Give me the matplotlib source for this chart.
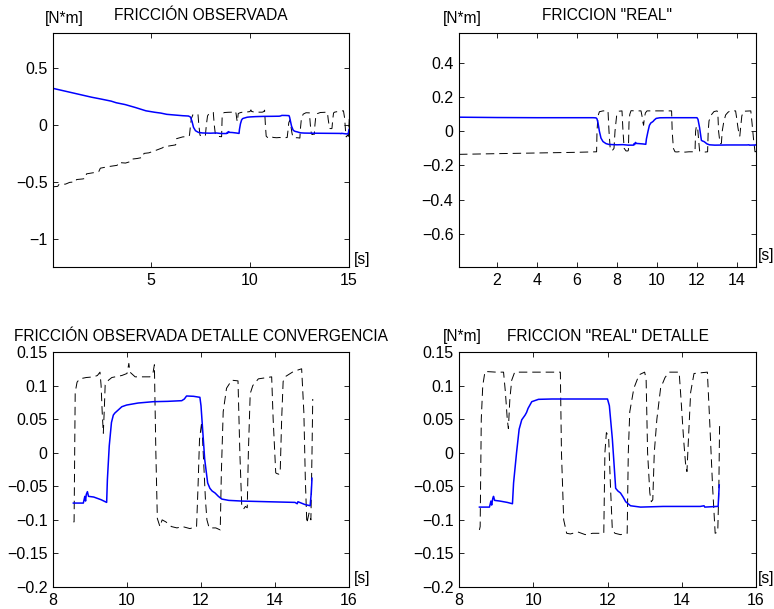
import matplotlib
matplotlib.use("Agg")
import matplotlib.pyplot as plt
from matplotlib.ticker import FuncFormatter

plt.rcParams['font.family'] = ['Liberation Sans', 'DejaVu Sans']
plt.rcParams['axes.unicode_minus'] = True

# ---------------------------------------------------------------------------
# Observed friction (solid blue) [N*m] vs time [s]
obs_t = [0.0, 0.5, 1.0, 1.55, 2.0, 2.5, 3.0, 3.25, 3.7, 4.2, 4.75, 5.2, 5.5, 5.8,
         6.2, 6.6, 6.9, 7.0, 7.08, 7.15, 7.25, 7.4, 7.6, 8.0, 8.3, 8.55, 8.82,
         8.86, 8.88, 8.9, 8.93, 8.96, 9.1, 9.3, 9.45, 9.47, 9.52, 9.58, 9.63,
         9.67, 9.75, 9.86, 9.99, 10.3, 10.71, 11.1, 11.48, 11.55, 11.61, 11.8,
         11.97, 12.0, 12.03, 12.1, 12.18, 12.24, 12.3, 12.38, 12.47, 12.56,
         12.75, 13.1, 13.8, 14.54, 14.6, 14.62, 14.8, 14.95, 14.98, 15.0]
obs_v = [0.325, 0.305, 0.285, 0.263, 0.245, 0.228, 0.21, 0.196, 0.18, 0.155,
         0.125, 0.112, 0.105, 0.094, 0.088, 0.082, 0.079, 0.070, 0.03, -0.02,
         -0.05, -0.065, -0.07, -0.072, -0.07, -0.075, -0.075, -0.065, -0.072,
         -0.062, -0.058, -0.065, -0.066, -0.070, -0.074, -0.04, 0.01, 0.045,
         0.056, 0.059, 0.063, 0.0685, 0.071, 0.074, 0.076, 0.0765, 0.0775,
         0.080, 0.0845, 0.084, 0.0825, 0.07, 0.046, -0.01, -0.045, -0.053,
         -0.057, -0.060, -0.065, -0.069, -0.071, -0.072, -0.073, -0.074,
         -0.076, -0.073, -0.077, -0.079, -0.06, -0.038]

# Reference signal plotted dashed alongside the observed friction
obs_ref_t = [0.0, 0.3, 0.35, 0.7, 0.9, 1.2, 1.25, 1.55, 1.7, 1.75, 2.1, 2.37,
             2.45, 2.9, 3.3, 3.35, 3.72, 4.0, 4.05, 4.3, 4.6, 4.65, 4.9, 5.3,
             5.6, 5.65, 5.9, 6.25, 6.3, 6.6, 6.9, 6.95,
             7.0, 7.05, 7.12, 7.3, 7.38, 7.42, 7.48, 7.6, 7.75, 7.8, 7.86, 7.95,
             8.15, 8.2, 8.26, 8.4, 8.55,
             8.57, 8.6, 8.65, 8.72, 8.9, 9.1, 9.2, 9.27, 9.3, 9.33, 9.36, 9.39,
             9.41, 9.5, 9.59, 9.86, 10.0, 10.05, 10.08, 10.22, 10.62, 10.7,
             10.74, 10.78, 10.82, 10.89, 10.95, 11.05, 11.2, 11.35, 11.5, 11.7,
             11.88, 11.92, 11.96, 12.02, 12.06, 12.12, 12.16, 12.22, 12.4,
             12.52, 12.55, 12.6, 12.69, 12.83, 13.0, 13.05, 13.1, 13.15, 13.2,
             13.25, 13.28, 13.33, 13.4, 13.55, 13.91, 13.95, 14.02, 14.05,
             14.1, 14.14, 14.18, 14.22, 14.27, 14.5, 14.72, 14.78, 14.82,
             14.86, 14.92, 14.97, 15.0, 15.02]
obs_ref_v = [-0.545, -0.54, -0.525, -0.52, -0.505, -0.50, -0.48, -0.475, -0.47,
             -0.43, -0.42, -0.41, -0.38, -0.365, -0.355, -0.33, -0.335, -0.32,
             -0.30, -0.295, -0.285, -0.25, -0.245, -0.22, -0.2, -0.19, -0.185,
             -0.175, -0.12, -0.105, -0.10, -0.09,
             0.0, 0.06, 0.09, 0.10, 0.09, 0.0, -0.09, -0.1, -0.095, 0.0, 0.08,
             0.105, 0.11, 0.0, -0.09, -0.1, -0.103,
             -0.103, 0.09, 0.105, 0.11, 0.112, 0.113, 0.115, 0.12, 0.10, 0.06,
             0.029, 0.07, 0.101, 0.108, 0.112, 0.115, 0.118, 0.133, 0.12, 0.113,
             0.113, 0.118, 0.131, 0.0, -0.098, -0.11, -0.10, -0.103, -0.11,
             -0.112, -0.11, -0.113, -0.11, -0.05, 0.02, 0.046, 0.0, -0.07,
             -0.100, -0.112, -0.112, -0.115, -0.03, 0.061, 0.096, 0.108, 0.107,
             0.0, -0.078, -0.084, -0.08, -0.082, 0.0, 0.088, 0.1, 0.11, 0.113,
             0.05, -0.03, -0.031, -0.032, -0.03, 0.05, 0.106, 0.113, 0.121,
             0.125, 0.06, -0.04, -0.105, -0.09, -0.1, 0.0, 0.08]

# "Real" friction (solid blue)
real_t = [0.1, 2.0, 4.0, 6.0, 6.8, 6.95, 7.0, 7.05, 7.12, 7.2, 7.3, 7.45, 7.6,
          8.0, 8.3, 8.55, 8.82, 8.86, 8.88, 8.91, 8.93, 8.96, 9.1, 9.3, 9.44,
          9.47, 9.55, 9.62, 9.69, 9.78, 9.82, 9.86, 9.96, 10.14, 10.5, 11.0,
          11.5, 12.0, 12.05, 12.13, 12.18, 12.22, 12.28, 12.35, 12.42, 12.49,
          12.62, 12.89, 13.5, 14.0, 14.5, 14.6, 14.62, 14.95, 14.98, 15.01]
real_v = [0.083, 0.081, 0.080, 0.080, 0.080, 0.079, 0.073, 0.05, 0.0, -0.04,
          -0.06, -0.072, -0.077, -0.079, -0.078, -0.081, -0.081, -0.072,
          -0.078, -0.068, -0.065, -0.071, -0.072, -0.074, -0.076, -0.045, 0.0,
          0.035, 0.049, 0.056, 0.06, 0.066, 0.076, 0.0795, 0.080, 0.080, 0.080,
          0.080, 0.07, 0.021, -0.02, -0.053, -0.057, -0.060, -0.066, -0.073,
          -0.079, -0.081, -0.080, -0.080, -0.080, -0.079, -0.081, -0.080,
          -0.08, -0.048]

# Reference signal plotted dashed alongside the real friction
real_ref_t = [0.1, 2.0, 4.0, 6.0, 6.98, 7.0, 7.05, 7.12, 7.3, 7.55, 7.6, 7.66,
              7.75, 7.85, 7.9, 7.98, 8.1, 8.25, 8.3, 8.36, 8.45, 8.55,
              8.57, 8.6, 8.64, 8.7, 9.0, 9.2, 9.25, 9.3, 9.33, 9.37, 9.42, 9.5,
              10.0, 10.5, 10.73, 10.76, 10.82, 10.9, 11.0, 11.2, 11.4, 11.6,
              11.9, 11.93, 11.97, 12.03, 12.08, 12.13, 12.2, 12.35, 12.53,
              12.56, 12.6, 12.71, 12.85, 13.0, 13.04, 13.08, 13.14, 13.18,
              13.22, 13.26, 13.33, 13.43, 13.55, 13.66, 13.93, 13.98, 14.05,
              14.1, 14.14, 14.18, 14.24, 14.33, 14.69, 14.75, 14.83, 14.9,
              14.97, 15.0, 15.02]
real_ref_v = [-0.135, -0.131, -0.127, -0.123, -0.12, 0.0, 0.09, 0.115, 0.12,
              0.12, 0.0, -0.1, -0.115, -0.1, 0.0, 0.09, 0.118, 0.12, 0.0, -0.1,
              -0.115, -0.115,
              -0.11, 0.05, 0.1, 0.121, 0.12, 0.12, 0.09, 0.05, 0.036, 0.08,
              0.108, 0.12, 0.12, 0.12, 0.12, 0.0, -0.1, -0.12, -0.121, -0.118,
              -0.122, -0.12, -0.12, 0.0, 0.03, 0.024, -0.05, -0.115, -0.12,
              -0.122, -0.12, 0.0, 0.061, 0.096, 0.116, 0.12, 0.11, 0.0, -0.06,
              -0.073, -0.07, 0.0, 0.05, 0.096, 0.112, 0.12, 0.12, 0.08, 0.02,
              -0.015, -0.028, 0.02, 0.09, 0.118, 0.12, 0.05, -0.05, -0.12,
              -0.118, -0.05, 0.046]

# Detail views start here
detail_start = 8.55

# Axis ticks
top_left_xticks = [5, 10, 15]
top_left_yticks = [-1, -0.5, 0, 0.5]
top_right_xticks = [2, 4, 6, 8, 10, 12, 14]
top_right_yticks = [-0.6, -0.4, -0.2, 0, 0.2, 0.4]
detail_xticks = [8, 10, 12, 14, 16]
detail_yticks = [-0.2, -0.15, -0.1, -0.05, 0, 0.05, 0.1, 0.15]

# ---------------------------------------------------------------------------
W, H = 774, 609
fig = plt.figure(figsize=(W / 100, H / 100), dpi=100)
BLUE = '#0000ff'
DASH = (0, (8.7, 5.1))
TICK_FS = 11.5
TEXT_FS = 11.2


def axes_px(left, top, right, bottom):
    return fig.add_axes([left / W, 1 - bottom / H, (right - left) / W, (bottom - top) / H])


def fmt(x, pos):
    s = f"{x:g}"
    if s in ("-0", "0"):
        return "0"
    return s.replace('-', '\u2212')


def style(ax, xlim, ylim, xticks, yticks):
    ax.set_xlim(*xlim)
    ax.set_ylim(*ylim)
    ax.set_xticks(xticks)
    ax.set_yticks(yticks)
    ax.xaxis.set_major_formatter(FuncFormatter(fmt))
    ax.yaxis.set_major_formatter(FuncFormatter(fmt))
    ax.tick_params(direction='in', length=3.5, width=0.6, top=True, right=True,
                   labelsize=TICK_FS, pad=4)
    for sp in ax.spines.values():
        sp.set_linewidth(0.8)


def select(t, v, t0):
    pairs = [(a, b) for a, b in zip(t, v) if a >= t0]
    return [p[0] for p in pairs], [p[1] for p in pairs]


def text_px(x, y, s):
    fig.text(x / W, 1 - y / H, s, ha='center', va='center', fontsize=TEXT_FS)


# Top left: observed friction, full run
ax1 = axes_px(53, 33, 349, 267)
ax1.plot(obs_ref_t, obs_ref_v, color='black', lw=0.7, linestyle=DASH)
ax1.plot(obs_t, obs_v, color=BLUE, lw=1.1)
style(ax1, (0.06, 15), (-1.25, 0.81), top_left_xticks, top_left_yticks)
ax1.set_title('FRICCIÓN OBSERVADA', fontsize=TEXT_FS, pad=9.4)
text_px(64, 18, '[N*m]')
text_px(362, 260, '[s]')

# Top right: real friction, full run
ax2 = axes_px(459, 33, 756, 267)
ax2.plot(real_ref_t, real_ref_v, color='black', lw=0.7, linestyle=DASH)
ax2.plot(real_t, real_v, color=BLUE, lw=1.1)
style(ax2, (0.1, 14.95), (-0.796, 0.577), top_right_xticks, top_right_yticks)
ax2.set_title('FRICCION "REAL"', fontsize=TEXT_FS, pad=9.4)
text_px(462, 18, '[N*m]')
text_px(766, 256, '[s]')

# Bottom left: observed friction, convergence detail
ax3 = axes_px(53, 352, 349, 587)
t, v = select(obs_ref_t, obs_ref_v, detail_start)
ax3.plot(t, v, color='black', lw=0.7, linestyle=DASH)
t, v = select(obs_t, obs_v, detail_start)
ax3.plot(t, v, color=BLUE, lw=1.1)
style(ax3, (8, 16), (-0.2, 0.15), detail_xticks, detail_yticks)
ax3.set_title('FRICCIÓN OBSERVADA DETALLE CONVERGENCIA', fontsize=TEXT_FS, pad=8.2)
text_px(362, 578, '[s]')

# Bottom right: real friction detail
ax4 = axes_px(459, 352, 756, 587)
t, v = select(real_ref_t, real_ref_v, detail_start)
ax4.plot(t, v, color='black', lw=0.7, linestyle=DASH)
t, v = select(real_t, real_v, detail_start)
ax4.plot(t, v, color=BLUE, lw=1.1)
style(ax4, (8, 16), (-0.2, 0.15), detail_xticks, detail_yticks)
ax4.set_title('FRICCION "REAL" DETALLE', fontsize=TEXT_FS, pad=8.2)
text_px(462, 336, '[N*m]')
text_px(766, 578, '[s]')

fig.savefig('out.png', dpi=100)
